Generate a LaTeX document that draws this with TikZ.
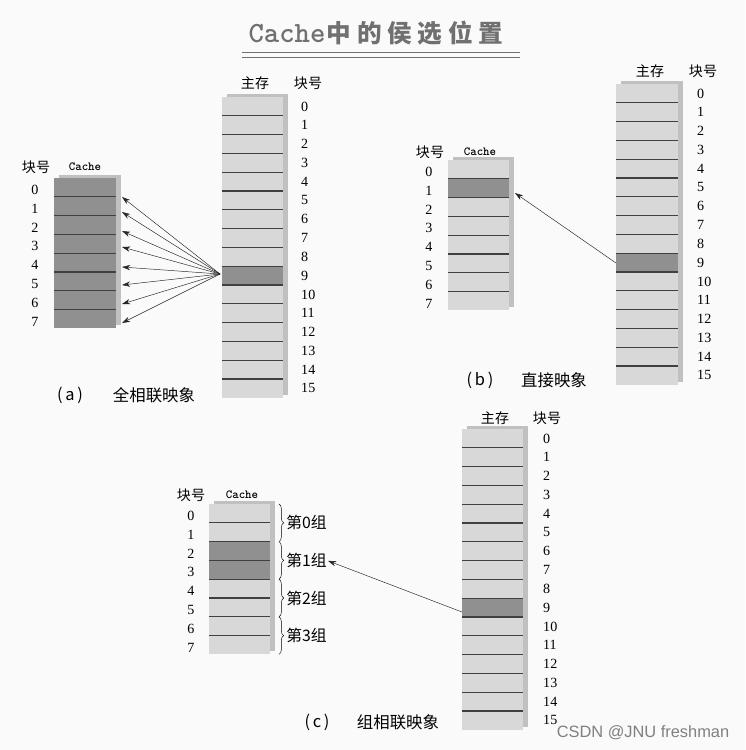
\documentclass[tikz,border=0pt]{standalone}
\usepackage{fontspec}
\usepackage{xcolor}
\usetikzlibrary{arrows.meta,decorations.pathreplacing}

\setmainfont{Liberation Serif}
\newfontfamily\cjk{Noto Sans CJK SC}
\newfontfamily\markfont{Liberation Sans}

\definecolor{bgGray}{RGB}{250,250,250}
\definecolor{blkGray}{RGB}{216,216,216}
\definecolor{hiGray}{RGB}{144,144,144}
\definecolor{shadeGray}{RGB}{192,192,192}
\definecolor{titleGray}{RGB}{112,112,112}

\begin{document}
\begin{tikzpicture}
[
	x=0.03cm, y=-0.03cm,
	blk/.style={fill=blkGray},
	hiblk/.style={fill=hiGray},
	shadeblk/.style={fill=shadeGray},
	sepline/.style={line width=1pt, color=black!75},
	num/.style={font=\fontsize{12}{12}\selectfont, inner sep=0, anchor=west},
	cnum/.style={font=\fontsize{12}{12}\selectfont, inner sep=0},
	lbl/.style={font=\cjk\fontsize{12}{12}\selectfont, inner sep=0},
	cachelbl/.style={font=\ttfamily\bfseries\fontsize{10.5}{10.5}\selectfont, inner sep=0},
	caption/.style={font=\cjk\fontsize{14}{14}\selectfont, inner sep=0},
	grplbl/.style={font=\cjk\fontsize{13.5}{13.5}\selectfont, inner sep=0, anchor=west},
	arr/.style={-{Stealth[length=7pt,width=4.5pt]}, thin, color=black!85},
	grpbrace/.style={decorate, decoration={brace, amplitude=4pt}, thin}
]

\def\rh{18.8}

% Background
\fill[bgGray] (0,0) rectangle (745,750);
\useasboundingbox (0,0) rectangle (745,750);

% Title
\node[text=titleGray, inner sep=0] (title) at (376,33)
	{\ttfamily\bfseries\fontsize{25}{25}\selectfont Cache\cjk\fontsize{21}{21}\selectfont\hspace{1pt}中\hspace{5pt}的\hspace{5pt}侯\hspace{5pt}选\hspace{5pt}位\hspace{5pt}置};
\draw[titleGray, line width=1.2pt] (242,52.5) -- (520,52.5) (242,57.5) -- (520,57.5);

% (a) main memory
\fill[shadeblk] (227,94) rectangle +(61,{16*\rh});
\fill[blk] (222,97) rectangle +(61,{16*\rh});
\fill[hiblk] (222,{97+9*\rh}) rectangle +(61,\rh);
\foreach \i in {1,...,15} \draw[sepline] (222,{97+\i*\rh}) -- +(61,0);
\foreach \i in {0,...,15} \node[num] (a-m\i) at (301,{97+(\i+0.5)*\rh}) {\i};
\node[lbl] (a-mem) at (255,83) {主存};
\node[lbl] (a-memno) at (308,83) {块号};

% (a) cache
\fill[shadeblk] (59,175) rectangle +(62,{8*\rh});
\fill[hiblk] (54,178) rectangle +(62,{8*\rh});
\foreach \i in {1,...,7} \draw[sepline] (54,{178+\i*\rh}) -- +(62,0);
\foreach \i in {0,...,7} \node[cnum] (a-c\i) at (35,{180.5+(\i+0.5)*\rh}) {\i};
\node[lbl] (a-cno) at (36,167) {块号};
\node[cachelbl] (a-cache) at (85,167) {Cache};

% (a) any block of the cache
\coordinate (a-src) at (220,274);
\foreach \y [count=\k from 0] in {197,212,231,247,267,285,304,323} {
	\coordinate (a-t\k) at (122,\y);
	\draw[arr] (a-src) -- (a-t\k);
}
\node[caption] (a-tag) at (70,395) {(\,a\,)};
\node[caption] (a-cap) at (154,395) {全相联映象};

% (b) cache
\fill[shadeblk] (453,157) rectangle +(61,{8*\rh});
\fill[blk] (448,160) rectangle +(61,{8*\rh});
\fill[hiblk] (448,{160+\rh}) rectangle +(61,\rh);
\foreach \i in {1,...,7} \draw[sepline] (448,{160+\i*\rh}) -- +(61,0);
\foreach \i in {0,...,7} \node[cnum] (b-c\i) at (429,{162.5+(\i+0.5)*\rh}) {\i};
\node[lbl] (b-cno) at (430,152) {块号};
\node[cachelbl] (b-cache) at (480,152) {Cache};

% (b) main memory
\fill[shadeblk] (621,81) rectangle +(62,{16*\rh});
\fill[blk] (616,84) rectangle +(62,{16*\rh});
\fill[hiblk] (616,{84+9*\rh}) rectangle +(62,\rh);
\foreach \i in {1,...,15} \draw[sepline] (616,{84+\i*\rh}) -- +(62,0);
\foreach \i in {0,...,15} \node[num] (b-m\i) at (697,{84+(\i+0.5)*\rh}) {\i};
\node[lbl] (b-mem) at (650,71) {主存};
\node[lbl] (b-memno) at (703,71) {块号};

% (b) one fixed block
\coordinate (b-src) at (616,263);
\coordinate (b-dst) at (515,193);
\draw[arr] (b-src) -- (b-dst);
\node[caption] (b-tag) at (480,380) {(\,b\,)};
\node[caption] (b-cap) at (554,380) {直接映象};

% (c) cache
\fill[shadeblk] (214,501) rectangle +(61,{8*\rh});
\fill[blk] (209,504) rectangle +(61,{8*\rh});
\fill[hiblk] (209,{504+2*\rh}) rectangle +(61,{2*\rh});
\foreach \i in {1,...,7} \draw[sepline] (209,{504+\i*\rh}) -- +(61,0);
\foreach \i in {0,...,7} \node[cnum] (c-c\i) at (191,{506.5+(\i+0.5)*\rh}) {\i};
\node[lbl] (c-cno) at (191,495) {块号};
\node[cachelbl] (c-cache) at (242,495) {Cache};

% (c) groups
\foreach \g in {0,...,3}
	\draw[grpbrace] (279,{504+2*\g*\rh}) -- (279,{504+2*(\g+1)*\rh})
		node[grplbl, midway, xshift=6pt] (c-g\g) {第\g{}组};

% (c) main memory
\fill[shadeblk] (467,426) rectangle +(61,{16*\rh});
\fill[blk] (462,429) rectangle +(61,{16*\rh});
\fill[hiblk] (462,{429+9*\rh}) rectangle +(61,\rh);
\foreach \i in {1,...,15} \draw[sepline] (462,{429+\i*\rh}) -- +(61,0);
\foreach \i in {0,...,15} \node[num] (c-m\i) at (543,{429+(\i+0.5)*\rh}) {\i};
\node[lbl] (c-mem) at (495,418) {主存};
\node[lbl] (c-memno) at (547,418) {块号};

% (c) one fixed group
\coordinate (c-src) at (462,612);
\draw[arr, shorten >=1pt] (c-src) -- (c-g1.east);
\node[caption] (c-tag) at (317,722) {(\,c\,)};
\node[caption] (c-cap) at (398,722) {组相联映象};

% Mark
\node[font=\markfont\fontsize{14}{14}\selectfont, text=black!50, inner sep=0] (mark) at (643,733) {CSDN @JNU freshman};

\end{tikzpicture}
\end{document}
